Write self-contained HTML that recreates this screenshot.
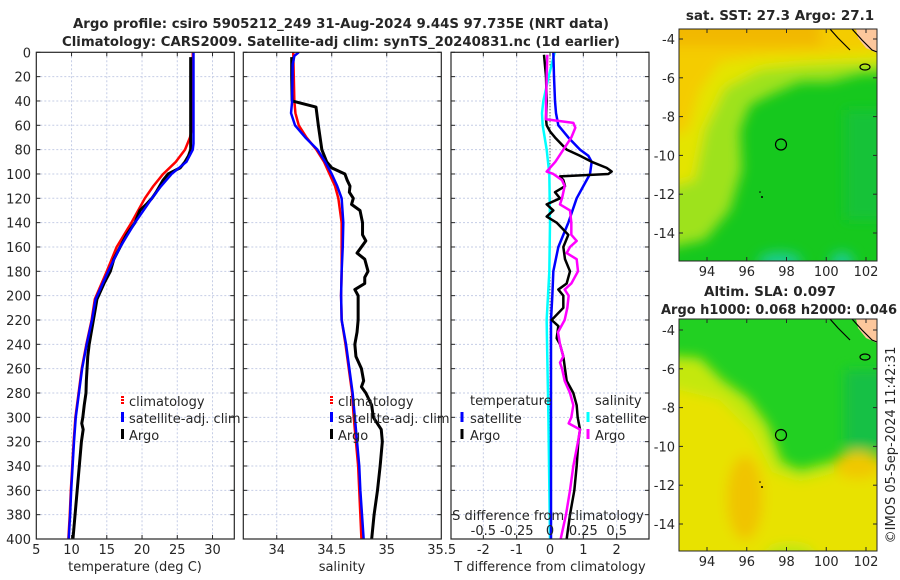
<!DOCTYPE html>
<html><head><meta charset="utf-8">
<style>
html,body{margin:0;padding:0;background:#fff;}
svg{display:block;font-family:"DejaVu Sans","Liberation Sans",sans-serif;}
text{fill:#262626;}
</style></head>
<body>
<svg id="fig" width="900" height="580" viewBox="0 0 900 580" xmlns="http://www.w3.org/2000/svg">
<defs>
<clipPath id="cp1"><rect x="36.3" y="52.3" width="198" height="486.7"/></clipPath>
<clipPath id="cp2"><rect x="243.3" y="52.3" width="198" height="486.7"/></clipPath>
<clipPath id="cp3"><rect x="451" y="52.3" width="198" height="486.7"/></clipPath>
<clipPath id="cm1"><rect x="679" y="29" width="198" height="232"/></clipPath>
<clipPath id="cm2"><rect x="679" y="319" width="198" height="232"/></clipPath>
<filter id="blur" x="-20%" y="-20%" width="140%" height="140%"><feGaussianBlur stdDeviation="6"/></filter>
</defs>
<text x="341" y="28" text-anchor="middle" font-weight="bold" font-size="13.5" textLength="536" lengthAdjust="spacingAndGlyphs">Argo profile: csiro 5905212_249 31-Aug-2024 9.44S 97.735E (NRT data)</text>
<text x="341" y="46" text-anchor="middle" font-weight="bold" font-size="13.5" textLength="558" lengthAdjust="spacingAndGlyphs">Climatology: CARS2009. Satellite-adj clim: synTS_20240831.nc (1d earlier)</text>

<!-- map 1 -->
<g>
<g clip-path="url(#cm1)">
<rect x="679" y="29" width="198" height="232" fill="#16c81e"/>
<g filter="url(#blur)">
<polygon points="660,10 900,10 900,72 860,74 830,82 800,82 770,95 750,105 740,130 742,170 730,210 705,240 660,250" fill="#9ee21a"/>
<polygon points="660,10 900,10 900,62 840,64 800,66 760,70 725,88 705,130 695,180 660,190" fill="#e4e400"/>
<polygon points="660,10 880,10 880,50 820,54 760,56 720,62 700,90 688,130 660,140" fill="#f4cc00"/>
<rect x="660" y="10" width="160" height="36" fill="#f2b800"/>
<ellipse cx="780" cy="262" rx="22" ry="10" fill="#1ccc90"/>
<ellipse cx="842" cy="262" rx="12" ry="10" fill="#1ccc90"/>
<rect x="845" y="110" width="40" height="110" fill="#12c238"/>
</g>
<polygon points="856,29 877,29 877,53 866,48 858,38" fill="#fdc79c"/>
<polyline points="852,29 862,40 872,50 877,52" fill="none" stroke="#000" stroke-width="1.2"/>
<polyline points="830,29 838,38 850,50" fill="none" stroke="#000" stroke-width="1.2"/>
<ellipse cx="865" cy="67" rx="5" ry="3" fill="none" stroke="#000" stroke-width="1.2"/>
<circle cx="781" cy="144.5" r="5.5" fill="none" stroke="#000" stroke-width="1.2"/>
<circle cx="760" cy="192" r="0.8" fill="#000"/><circle cx="762" cy="197" r="1" fill="#000"/>
</g>
<rect x="679" y="29" width="198" height="232" fill="none" stroke="#262626" stroke-width="1"/>
<text x="780" y="20" text-anchor="middle" font-weight="bold" font-size="13.5">sat. SST: 27.3 Argo: 27.1</text>
</g>

<!-- map 2 -->
<g>
<g clip-path="url(#cm2)">
<rect x="679" y="319" width="198" height="232" fill="#22d022"/>
<g filter="url(#blur)">
<rect x="845" y="370" width="45" height="80" fill="#16c044"/>
<polygon points="660,355 700,358 722,380 748,398 768,425 782,462 800,470 830,462 900,458 900,570 660,570" fill="#c4e810"/>
<polygon points="660,385 720,400 752,432 772,472 800,482 840,472 900,472 900,570 660,570" fill="#e8e200"/>
<ellipse cx="745" cy="498" rx="18" ry="42" fill="#f0c400"/>
<ellipse cx="858" cy="465" rx="24" ry="14" fill="#f0c800"/>
<ellipse cx="790" cy="555" rx="25" ry="10" fill="#b8e818"/>
</g>
<polygon points="856,319 877,319 877,343 866,338 858,328" fill="#fdc79c"/>
<polyline points="852,319 862,330 872,340 877,342" fill="none" stroke="#000" stroke-width="1.2"/>
<polyline points="830,319 838,328 850,340" fill="none" stroke="#000" stroke-width="1.2"/>
<ellipse cx="865" cy="357" rx="5" ry="3" fill="none" stroke="#000" stroke-width="1.2"/>
<circle cx="781" cy="435" r="5.5" fill="none" stroke="#000" stroke-width="1.2"/>
<circle cx="760" cy="482" r="0.8" fill="#000"/><circle cx="762" cy="487" r="1" fill="#000"/>
</g>
<rect x="679" y="319" width="198" height="232" fill="none" stroke="#262626" stroke-width="1"/>
<text x="770" y="296" text-anchor="middle" font-weight="bold" font-size="13.5">Altim. SLA: 0.097</text>
<text x="779" y="314" text-anchor="middle" font-weight="bold" font-size="13.5" textLength="236" lengthAdjust="spacingAndGlyphs">Argo h1000: 0.068 h2000: 0.046</text>
</g>
<text transform="translate(895,445) rotate(-90)" text-anchor="middle" font-size="13">©IMOS 05-Sep-2024 11:42:31</text>
<g id="axes"></g>
</svg>
<script>
// ---- data (depth in m) ----
const depthTicks = [0,20,40,60,80,100,120,140,160,180,200,220,240,260,280,300,320,340,360,380,400];
const tempTicks = [5,10,15,20,25,30];
const salTicks = [34,34.5,35,35.5];
const salTickLabels = ["34","34.5","35","35.5"];
const diffTicks = [-2,-1,0,1,2];
const sDiffTicks = [-0.5,-0.25,0,0.25,0.5];
const sDiffLabels = ["-0.5","-0.25","0","0.25","0.5"];
const latTicks = [-4,-6,-8,-10,-12,-14];
const lonTicks = [94,96,98,100,102];

const tClimDepth = [0,20,40,60,65,70,80,90,100,110,120,140,160,180,203,220,240,260,280,300,320,340,360,380,400];
const tClim = [27.2,27.2,27.2,27.15,27.0,26.8,26.1,24.8,23.0,21.6,20.4,18.5,16.4,15.0,13.3,12.85,12.1,11.45,11.0,10.55,10.3,10.1,9.9,9.75,9.55];
const tSatDepth = [0,60,75,80,90,100,110,120,140,160,180,203,220,240,260,280,300,320,340,360,380,400];
const tSat = [27.3,27.3,27.3,27.2,26.3,24.2,22.7,21.4,19.0,16.9,15.2,13.4,12.9,12.15,11.5,11.05,10.6,10.35,10.15,9.95,9.8,9.6];
const tArgoDepth = [4,20,40,60,80,85,90,95,100,105,110,115,120,125,130,140,150,160,170,180,190,203,210,220,230,240,250,260,270,280,290,300,305,310,320,340,360,380,400];
const tArgo = [26.9,26.9,26.9,26.9,26.9,26.6,26.1,25.4,23.7,23.0,22.5,22.0,21.4,20.6,19.7,19.0,17.8,16.9,16.0,15.5,14.6,13.6,13.4,13.1,12.8,12.5,12.3,12.2,12.1,12.05,11.8,11.6,11.45,11.65,11.4,11.1,10.8,10.5,10.2];

const sClimDepth = [0,20,40,50,60,70,80,90,100,110,120,140,160,180,200,220,240,260,280,300,320,340,360,380,400];
const sClim = [34.15,34.155,34.16,34.17,34.2,34.27,34.36,34.43,34.48,34.53,34.56,34.59,34.59,34.59,34.585,34.59,34.625,34.655,34.685,34.7,34.72,34.74,34.75,34.76,34.77];
const sSatDepth = [0,3,10,40,50,60,70,80,90,100,110,120,140,160,180,200,220,240,260,280,300,320,340,360,380,400];
const sSat = [34.2,34.16,34.145,34.14,34.13,34.166,34.26,34.37,34.44,34.5,34.55,34.59,34.605,34.6,34.59,34.585,34.59,34.63,34.66,34.69,34.71,34.73,34.75,34.76,34.775,34.79];
const sArgoDepth = [4,20,40,45,60,80,90,95,100,105,110,115,120,125,130,140,150,155,165,170,180,185,190,195,200,220,230,240,250,260,270,275,280,290,300,310,320,340,360,380,400];
const sArgo = [34.136,34.136,34.14,34.357,34.378,34.41,34.454,34.5,34.62,34.64,34.666,34.66,34.696,34.68,34.757,34.78,34.78,34.81,34.73,34.80,34.83,34.80,34.80,34.71,34.74,34.74,34.73,34.71,34.72,34.77,34.79,34.77,34.81,34.863,34.878,34.95,34.96,34.94,34.916,34.885,34.863];

const dTArgoDepth = [2,20,40,55,60,65,70,80,85,90,95,98,100,102,105,110,115,120,125,130,135,140,150,160,170,180,190,195,200,210,220,225,235,240,250,260,270,280,290,300,310,320,340,360,380,400];
const dTArgo = [-0.18,-0.12,-0.1,-0.12,-0.1,0,0.15,0.5,0.9,1.25,1.7,1.85,1.75,0.3,0.4,0.45,0.15,0.3,-0.1,0.1,-0.1,0.2,0.55,0.4,0.45,0.6,0.5,0.25,0.4,0.4,0.05,0.25,0.2,0.3,0.4,0.45,0.5,0.7,0.8,0.83,0.9,0.85,0.8,0.73,0.6,0.5];
const dTSatDepth = [0,20,40,50,60,70,80,85,90,100,110,120,140,160,180,200,220,260,300,400];
const dTSat = [0.1,0.12,0.15,0.18,0.25,0.55,0.9,1.15,1.25,1.2,1.0,0.8,0.55,0.25,0.1,0.07,0.03,0.03,0.03,0.03];
const dSArgoDepth = [2,40,55,58,62,70,80,90,98,100,105,110,120,125,130,140,150,155,160,165,170,180,190,195,200,210,220,230,240,250,255,260,270,280,290,300,305,310,320,340,360,380,400];
const dSArgo = [-0.02,-0.03,-0.03,0.175,0.19,0.16,0.1,0.04,-0.025,0.025,0.09,0.11,0.09,0.075,0.15,0.16,0.16,0.2,0.15,0.125,0.2,0.21,0.16,0.11,0.14,0.13,0.11,0.06,0.075,0.1,0.075,0.09,0.11,0.15,0.175,0.16,0.14,0.225,0.21,0.175,0.15,0.12,0.08];
const dSSatDepth = [0,20,40,50,60,80,100,140,180,220,240,300,400];
const dSSat = [0.035,-0.01,-0.05,-0.06,-0.055,-0.025,-0.005,0,-0.005,-0.025,-0.022,-0.012,0];

// ---- scales ----
const NS = "http://www.w3.org/2000/svg";
const top0 = 52.3, bot0 = 539;
const yD = d => top0 + (d/400)*(bot0-top0);
const lin = (d0,d1,r0,r1) => v => r0 + (v-d0)/(d1-d0)*(r1-r0);
const xT = lin(5,33.09,36.3,234.3);
const xS = lin(33.696,35.496,243.3,441.3);
const xDT = lin(-2.97,2.97,451,649);
const xDS = lin(-0.7425,0.7425,451,649);
const mapX = lin(94,102,707,866);
const map1Y = lin(-4,-14,39,233);
const map2Y = lin(-4,-14,330,524);
const root = document.getElementById('axes');

function mk(tag, attrs, parent){
  const e = document.createElementNS(NS, tag);
  for (const k in attrs) e.setAttribute(k, attrs[k]);
  (parent||root).appendChild(e);
  return e;
}
function txt(s, x, y, anchor, size, parent){
  const t = mk('text', {x:x, y:y, 'text-anchor':anchor, 'font-size':size}, parent);
  t.textContent = s;
  return t;
}

function panel(name, x0, x1, xs, ticks, labels, clip){
  const g = mk('g', {});
  
  
  depthTicks.forEach(d => {
    const y = yD(d);
    if (d>0 && d<400) {
      const l = mk('line', {x1:x0, x2:x1, y1:y, y2:y, stroke:'#c5cde6', 'stroke-width':1, 'stroke-dasharray':'2,2'}, g);
      
      
    }
    mk('line', {x1:x0, x2:x0+4, y1:y, y2:y, stroke:'#262626'}, g);
    mk('line', {x1:x1-4, x2:x1, y1:y, y2:y, stroke:'#262626'}, g);
  });
  ticks.forEach((v,i) => {
    const x = xs(v);
    if (x > x0+1 && x < x1-1) {
      const l = mk('line', {x1:x, x2:x, y1:top0, y2:bot0, stroke:'#c5cde6', 'stroke-width':1, 'stroke-dasharray':'2,2'}, g);
      
      
      mk('line', {x1:x, x2:x, y1:bot0-4, y2:bot0, stroke:'#262626'}, g);
      mk('line', {x1:x, x2:x, y1:top0, y2:top0+4, stroke:'#262626'}, g);
    }
    const t = txt(labels[i], x, 554, 'middle', 13, g);
    
    
  });
  const cg = mk('g', {'clip-path':'url(#'+clip+')'}, g);
  mk('rect', {x:x0, y:top0, width:x1-x0, height:bot0-top0, fill:'none', stroke:'#262626', 'stroke-width':1.2}, g);
  return cg;
}

function series(cg, name, depths, vals, xs, color, w, dash){
  const pts = depths.map((d,i) => xs(vals[i]).toFixed(2)+','+yD(d).toFixed(2)).join(' ');
  const p = mk('polyline', {points:pts, fill:'none', stroke:color, 'stroke-width':w, 'stroke-linejoin':'round'}, cg);
  if (dash) p.setAttribute('stroke-dasharray', dash);
  
  
}

// panel 1
const c1 = panel('temperature-panel', 36.3, 234.3, xT, tempTicks, tempTicks.map(String), 'cp1');
depthTicks.forEach(d => {
  const t = txt(String(d), 31, yD(d)+5, 'end', 13);
  
  
});
series(c1, 'temperature-climatology-line', tClimDepth, tClim, xT, '#ff0000', 2.5);
series(c1, 'temperature-argo-line', tArgoDepth, tArgo, xT, '#000000', 3);
series(c1, 'temperature-satellite-line', tSatDepth, tSat, xT, '#0000ff', 2.5);
const xt1 = txt('temperature (deg C)', 135, 571, 'middle', 13);



// panel 2
const c2 = panel('salinity-panel', 243.3, 441.3, xS, salTicks, salTickLabels, 'cp2');
series(c2, 'salinity-climatology-line', sClimDepth, sClim, xS, '#ff0000', 2.5);
series(c2, 'salinity-argo-line', sArgoDepth, sArgo, xS, '#000000', 3);
series(c2, 'salinity-satellite-line', sSatDepth, sSat, xS, '#0000ff', 2.5);
const xt2 = txt('salinity', 342, 571, 'middle', 13);



// panel 3
const c3 = panel('difference-panel', 451, 649, xDT, diffTicks, diffTicks.map(String), 'cp3');
mk('line', {x1:xDT(0), x2:xDT(0), y1:top0, y2:bot0, stroke:'#333', 'stroke-width':1, 'stroke-dasharray':'1,2'}, c3);
series(c3, 'salinity-satellite-diff-line', dSSatDepth, dSSat, xDS, '#00ffff', 2.5);
series(c3, 'temperature-satellite-diff-line', dTSatDepth, dTSat, xDT, '#0000ff', 2.5);
series(c3, 'temperature-argo-diff-line', dTArgoDepth, dTArgo, xDT, '#000000', 2.5);
series(c3, 'salinity-argo-diff-line', dSArgoDepth, dSArgo, xDS, '#ff00ff', 2.5);
const xt3 = txt('T difference from climatology', 550, 571, 'middle', 13);


const st3 = txt('S difference from climatology', 548, 520, 'middle', 13);


sDiffTicks.forEach((v,i) => {
  const t = txt(sDiffLabels[i], xDS(v), 535, 'middle', 13);
  
  
});

// legends
function legendEntry(name, mx, tx, y, color, label, dashed){
  const g = mk('g', {});
  
  
  mk('rect', {x:mx-1.5, y:y-11, width:3, height:10, fill:color}, g);
  if (dashed) { mk('line', {x1:mx, x2:mx, y1:y-11, y2:y-1, stroke:'#fff', 'stroke-width':3, 'stroke-dasharray':'1,2'}, g); }
  txt(label, tx, y, 'start', 13, g);
}
legendEntry('legend-climatology', 122.5, 129, 406, '#ff0000', 'climatology', true);
legendEntry('legend-satellite-adj', 122.5, 129, 423, '#0000ff', 'satellite-adj. clim');
legendEntry('legend-argo', 122.5, 129, 440, '#000000', 'Argo');
legendEntry('legend-climatology-2', 331.5, 338, 406, '#ff0000', 'climatology', true);
legendEntry('legend-satellite-adj-2', 331.5, 338, 423, '#0000ff', 'satellite-adj. clim');
legendEntry('legend-argo-2', 331.5, 338, 440, '#000000', 'Argo');
const lh1 = txt('temperature', 470, 405, 'start', 13);


legendEntry('legend-temp-satellite', 462, 470, 423, '#0000ff', 'satellite');
legendEntry('legend-temp-argo', 462, 470, 440, '#000000', 'Argo');
const lh2 = txt('salinity', 595, 405, 'start', 13);


legendEntry('legend-sal-satellite', 588, 595, 423, '#00ffff', 'satellite');
legendEntry('legend-sal-argo', 588, 595, 440, '#ff00ff', 'Argo');

// map axes
function mapAxes(name, yTop, yBot, my){
  const g = mk('g', {});
  
  
  latTicks.forEach(v => {
    const y = my(v);
    mk('line', {x1:679, x2:683, y1:y, y2:y, stroke:'#262626'}, g);
    mk('line', {x1:873, x2:877, y1:y, y2:y, stroke:'#262626'}, g);
    txt(String(v), 675, y+5, 'end', 13, g);
  });
  lonTicks.forEach(v => {
    const x = mapX(v);
    mk('line', {x1:x, x2:x, y1:yBot-4, y2:yBot, stroke:'#262626'}, g);
    mk('line', {x1:x, x2:x, y1:yTop, y2:yTop+4, stroke:'#262626'}, g);
    txt(String(v), x, yBot+15, 'middle', 13, g);
  });
}
mapAxes('sst-map-axes', 29, 261, map1Y);
mapAxes('sla-map-axes', 319, 551, map2Y);
</script>
</body></html>
